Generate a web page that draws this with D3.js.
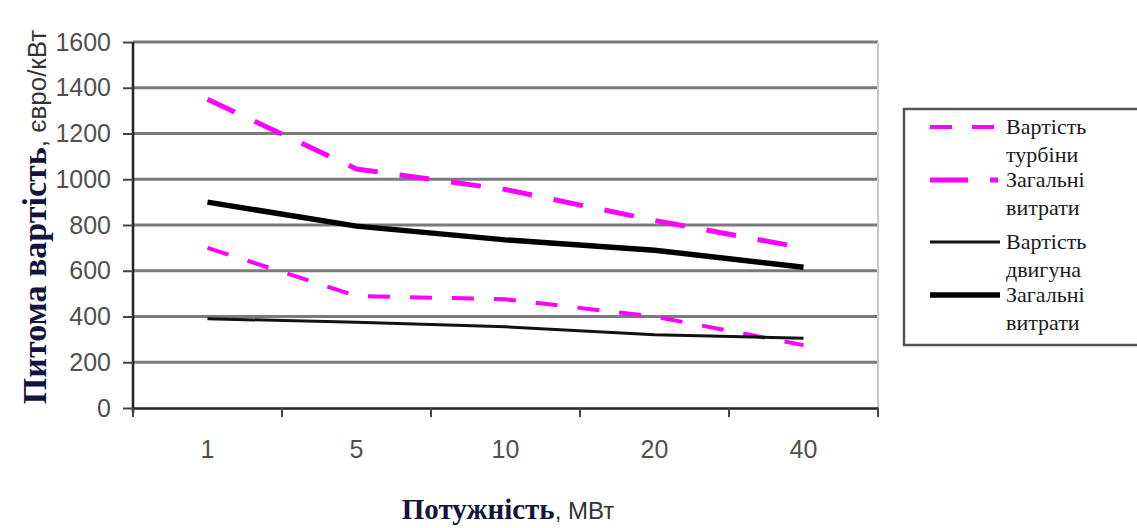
<!DOCTYPE html>
<html>
<head>
<meta charset="utf-8">
<script src="https://cdn.jsdelivr.net/npm/d3@7"></script>
<style>
  body { margin: 0; background: #fff; }
  svg { display: block; }
</style>
</head>
<body>
<svg id="chart"></svg>
<script>
const width = 1137, height = 528;
const serif = "'Liberation Serif', 'Times New Roman', 'DejaVu Serif', serif";
const sans = "'Liberation Sans', Arial, sans-serif";

// data
const powers = ["1", "5", "10", "20", "40"];
const turbineCost = [700, 490, 475, 400, 275];
const turbineTotal = [1350, 1045, 955, 820, 700];
const engineCost = [390, 375, 355, 320, 305];
const engineTotal = [900, 795, 735, 690, 615];
const yTicks = [0, 200, 400, 600, 800, 1000, 1200, 1400, 1600];

const series = [
    {name: ["Вартість", "турбіни"], values: turbineCost, color: "#ff00ff", w: 4, dash: "22,20", legendDash: "22,20"},
    {name: ["Загальні", "витрати"], values: turbineTotal, color: "#ff00ff", w: 5, dash: "30,22", legendDash: "38,22,8,40"},
    {name: ["Вартість", "двигуна"], values: engineCost, color: "#111", w: 3, dash: null, legendDash: null},
    {name: ["Загальні", "витрати"], values: engineTotal, color: "#000", w: 5.5, dash: null, legendDash: null}
];

const margin = {left: 133, right: 259, top: 42, bottom: 120};

const svg = d3.select("#chart")
    .attr("width", width)
    .attr("height", height);

const x = d3.scaleBand()
    .domain(powers)
    .range([margin.left, width - margin.right]);

const y = d3.scaleLinear()
    .domain([0, 1600])
    .range([height - margin.bottom, margin.top]);

//gridlines
svg.append("g")
    .selectAll("line")
    .data(yTicks.slice(1))
    .join("line")
    .attr("x1", margin.left)
    .attr("x2", width - margin.right)
    .attr("y1", d => y(d))
    .attr("y2", d => y(d))
    .attr("stroke", "#7a7a7a")
    .attr("stroke-width", 3);

//right edge of plot area
svg.append("line")
    .attr("x1", width - margin.right).attr("x2", width - margin.right)
    .attr("y1", margin.top).attr("y2", y(0))
    .attr("stroke", "#c8c8c8")
    .attr("stroke-width", 2);

//y axis
const yAxis = svg.append("g")
    .attr("transform", `translate(${margin.left},0)`)
    .call(d3.axisLeft(y).tickValues(yTicks).tickFormat(d3.format("d")).tickSize(10).tickPadding(12));
yAxis.select(".domain").attr("stroke", "#222").attr("stroke-width", 2.5)
    .attr("d", `M0,${margin.top}V${y(0) + 5}`);
yAxis.selectAll(".tick line").attr("stroke", "#444").attr("stroke-width", 2);
yAxis.selectAll(".tick text")
    .style("font-family", sans)
    .attr("font-size", 25)
    .attr("fill", "#505050");

//x axis
const xAxis = svg.append("g")
    .attr("transform", `translate(0,${y(0)})`)
    .call(d3.axisBottom(x).tickSize(0).tickPadding(32));
xAxis.select(".domain").attr("stroke", "#222").attr("stroke-width", 2.5);
xAxis.selectAll(".tick text")
    .style("font-family", sans)
    .attr("font-size", 25)
    .attr("fill", "#505050");
//category separators
const edges = powers.map(p => x(p)).concat([x(powers[powers.length - 1]) + x.bandwidth()]);
xAxis.selectAll(".sep")
    .data(edges)
    .join("line")
    .attr("class", "sep")
    .attr("x1", d => d).attr("x2", d => d)
    .attr("y1", 0).attr("y2", 9)
    .attr("stroke", "#444")
    .attr("stroke-width", 2);

//lines
const line = d3.line()
    .x((d, i) => x(powers[i]) + x.bandwidth() / 2)
    .y(d => y(d));

svg.append("g")
    .selectAll("path")
    .data(series)
    .join("path")
    .attr("d", d => line(d.values))
    .attr("fill", "none")
    .attr("stroke", d => d.color)
    .attr("stroke-width", d => d.w)
    .attr("stroke-dasharray", d => d.dash);

//axis titles
const xTitle = svg.append("text")
    .attr("x", 508)
    .attr("y", 519)
    .attr("text-anchor", "middle");
xTitle.append("tspan")
    .style("font-family", serif)
    .attr("font-weight", "bold")
    .attr("font-size", 29)
    .attr("fill", "#14143c")
    .text("Потужність");
xTitle.append("tspan")
    .style("font-family", sans)
    .attr("font-size", 24)
    .attr("fill", "#333")
    .text(", МВт");

const yTitle = svg.append("text")
    .attr("transform", "translate(46,217) rotate(-90)")
    .attr("text-anchor", "middle");
yTitle.append("tspan")
    .style("font-family", serif)
    .attr("font-weight", "bold")
    .attr("font-size", 34)
    .attr("fill", "#14143c")
    .text("Питома вартість");
yTitle.append("tspan")
    .style("font-family", sans)
    .attr("font-size", 26)
    .attr("fill", "#333")
    .text(", євро/кВт");

//legend
const legend = svg.append("g");
legend.append("rect")
    .attr("x", 904).attr("y", 109)
    .attr("width", 245).attr("height", 236)
    .attr("fill", "#fff")
    .attr("stroke", "#555")
    .attr("stroke-width", 2.5);

const legendRows = [127, 180, 242, 295];
const item = legend.selectAll(".item")
    .data(series)
    .join("g")
    .attr("class", "item")
    .attr("transform", (d, i) => `translate(0,${legendRows[i]})`);

item.append("line")
    .attr("x1", 930).attr("x2", 1000)
    .attr("y1", 0).attr("y2", 0)
    .attr("stroke", d => d.color)
    .attr("stroke-width", d => d.w)
    .attr("stroke-dasharray", d => d.legendDash);

item.append("text")
    .style("font-family", serif)
    .attr("x", 1006)
    .attr("y", 7)
    .attr("font-size", 22)
    .attr("fill", "#1a1a1a")
    .selectAll("tspan")
    .data(d => d.name)
    .join("tspan")
    .attr("x", 1006)
    .attr("dy", (d, i) => i === 0 ? 0 : 28)
    .text(d => d);
</script>
</body>
</html>
